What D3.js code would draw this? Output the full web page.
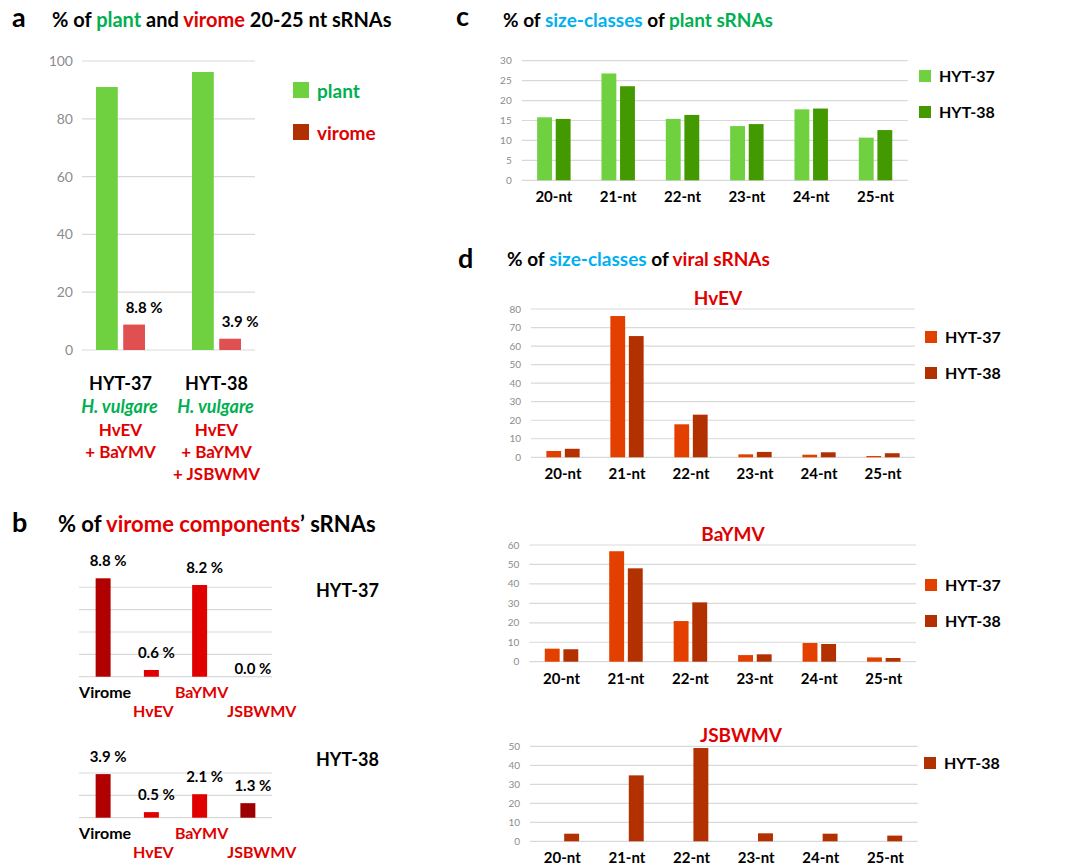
<!DOCTYPE html>
<html>
<head>
<meta charset="utf-8">
<script src="https://cdn.jsdelivr.net/npm/d3@7"></script>
<style>
  body { margin: 0; background: #fff; }
  svg text { font-family: Lato, "Open Sans", sans-serif; }
</style>
</head>
<body>
<div id="chart"></div>
<script>
// ---- data ----
var samples = ["HYT-37", "HYT-38"];
var plantPct = [91.0, 96.2];
var viromePct = [8.8, 3.9];
var hostLabel = ["H. vulgare", "H. vulgare"];
var virusLines = [["HvEV", "+ BaYMV"], ["HvEV", "+ BaYMV", "+ JSBWMV"]];

var components = ["Virome", "HvEV", "BaYMV", "JSBWMV"];
var comp37 = [8.8, 0.6, 8.2, 0.0];
var comp38 = [3.9, 0.5, 2.1, 1.3];

var sizeClasses = ["20-nt", "21-nt", "22-nt", "23-nt", "24-nt", "25-nt"];
var plant37 = [15.8, 26.8, 15.4, 13.6, 17.8, 10.7];
var plant38 = [15.4, 23.6, 16.4, 14.1, 18.0, 12.6];
var hvev37 = [3.4, 76.2, 17.8, 1.6, 1.4, 0.7];
var hvev38 = [4.6, 65.4, 23.0, 2.9, 2.7, 2.2];
var baymv37 = [6.7, 56.8, 20.9, 3.4, 9.6, 2.2];
var baymv38 = [6.4, 48.0, 30.5, 3.8, 9.1, 1.9];
var jsbwmv38 = [4.0, 34.7, 49.1, 4.2, 4.0, 3.0];

var GREEN = "#00b050", RED = "#e00000", BLUE = "#00b0f0", GRID = "#d9d9d9";

var svg = d3.select("#chart").append("svg")
    .attr("width", 1079)
    .attr("height", 867);

function title(x, y, parts, size) {
    var t = svg.append("text")
        .attr("x", x).attr("y", y)
        .attr("font-size", size)
        .attr("font-weight", "bold");
    parts.forEach(function(p) {
        t.append("tspan").attr("fill", p[1]).text(p[0]);
    });
    return t;
}

function panelLetter(x, y, s) {
    svg.append("text").attr("x", x).attr("y", y)
        .attr("font-size", 27).attr("font-weight", "bold")
        .text(s);
}

function grid(y, ticks, x0, x1) {
    svg.append("g").selectAll("line")
        .data(ticks).enter().append("line")
        .attr("x1", x0).attr("x2", x1)
        .attr("y1", function(d) { return y(d); })
        .attr("y2", function(d) { return y(d); })
        .attr("stroke", GRID).attr("stroke-width", 1.2);
}

function tickLabels(y, ticks, x, size) {
    svg.append("g").selectAll("text")
        .data(ticks).enter().append("text")
        .attr("x", x)
        .attr("y", function(d) { return y(d); })
        .attr("dy", "0.35em")
        .attr("text-anchor", "end")
        .attr("font-size", size)
        .attr("fill", "#8c8c8c")
        .text(function(d) { return d; });
}

function legendItem(x, y, color, label, textColor, size, w, h) {
    svg.append("rect").attr("x", x).attr("y", y - h)
        .attr("width", w).attr("height", h).attr("fill", color);
    svg.append("text").attr("x", x + w + 8).attr("y", y)
        .attr("font-size", size).attr("font-weight", "bold")
        .attr("fill", textColor).text(label);
}

// ================= panel a =================
panelLetter(12, 27, "a");
title(52, 27, [["% of ", "#000"], ["plant", GREEN], [" and ", "#000"], ["virome", RED], [" 20-25 nt sRNAs", "#000"]], 20);

var yA = d3.scaleLinear().domain([0, 100]).range([350, 61]);
var xA = d3.scaleBand().domain(samples).range([82, 255]).paddingInner(0.49).paddingOuter(0.146);
var xA1 = d3.scaleBand().domain(["plant", "virome"]).range([0, xA.bandwidth()]).paddingInner(0.2);
var ticksA = [0, 20, 40, 60, 80, 100];

grid(yA, ticksA, 82, 255);
tickLabels(yA, ticksA, 73, 14);

var gA = svg.append("g").selectAll("g")
    .data(samples).enter().append("g")
    .attr("transform", function(d) { return "translate(" + xA(d) + ",0)"; });

gA.append("rect")
    .attr("x", xA1("plant"))
    .attr("width", xA1.bandwidth())
    .attr("y", function(d, i) { return yA(plantPct[i]); })
    .attr("height", function(d, i) { return yA(0) - yA(plantPct[i]); })
    .attr("fill", "#6fd140");

gA.append("rect")
    .attr("x", xA1("virome"))
    .attr("width", xA1.bandwidth())
    .attr("y", function(d, i) { return yA(viromePct[i]); })
    .attr("height", function(d, i) { return yA(0) - yA(viromePct[i]); })
    .attr("fill", "#e05050");

gA.append("text")
    .attr("x", xA1("virome") + xA1.bandwidth() / 2 + 10)
    .attr("y", function(d, i) { return yA(viromePct[i]) - 12; })
    .attr("text-anchor", "middle")
    .attr("font-size", 15).attr("font-weight", "bold")
    .text(function(d, i) { return viromePct[i].toFixed(1) + " %"; });

// sample labels under panel a
gA.each(function(d, i) {
    var cx = xA.bandwidth() / 2;
    var g = d3.select(this);
    g.append("text").attr("x", cx).attr("y", 390)
        .attr("text-anchor", "middle").attr("font-size", 18).attr("font-weight", "bold")
        .text(d);
    g.append("text").attr("x", cx - 1).attr("y", 413)
        .attr("text-anchor", "middle").attr("font-size", 18).attr("font-weight", "bold")
        .attr("font-style", "italic").attr("fill", GREEN)
        .text(hostLabel[i]);
    virusLines[i].forEach(function(s, k) {
        g.append("text").attr("x", cx).attr("y", 436 + k * 22)
            .attr("text-anchor", "middle").attr("font-size", 17).attr("font-weight", "bold")
            .attr("fill", RED).text(s);
    });
});

legendItem(293, 98, "#6fd140", "plant", GREEN, 19, 16, 16);
legendItem(293, 140, "#b03000", "virome", RED, 19, 16, 16);

// ================= panel b =================
panelLetter(12, 532, "b");
title(58, 532, [["% of ", "#000"], ["virome components", RED], ["\u2019 sRNAs", "#000"]], 22);

var compColors = ["#b00000", "#e00000", "#e00000", "#9c0000"];
var labelColors = ["#000", RED, RED, RED];
var xB = d3.scaleBand().domain(components).range([79, 272]).paddingInner(0.69).paddingOuter(0.345);

function componentChart(values, base, maxTick, sample, sampleY) {
    var y = d3.scaleLinear().domain([0, 1]).range([base, base - 11.18]);
    var ticks = d3.range(0, maxTick + 1, 2);
    grid(y, ticks, 79, 272);
    var g = svg.append("g");
    g.selectAll("rect").data(components).enter().append("rect")
        .attr("x", function(d) { return xB(d); })
        .attr("width", xB.bandwidth())
        .attr("y", function(d, i) { return y(values[i]); })
        .attr("height", function(d, i) { return y(0) - y(values[i]); })
        .attr("fill", function(d, i) { return compColors[i]; });
    g.selectAll(".val").data(components).enter().append("text")
        .attr("class", "val")
        .attr("x", function(d) { return xB(d) + xB.bandwidth() / 2 + 5; })
        .attr("y", function(d, i) { return y(values[i]) - (values[i] > 0 ? 12 : 3); })
        .attr("text-anchor", "middle")
        .attr("font-size", 15).attr("font-weight", "bold")
        .text(function(d, i) { return values[i].toFixed(1) + " %"; });
    g.selectAll(".cat").data(components).enter().append("text")
        .attr("class", "cat")
        .attr("x", function(d, i) { return xB(d) + xB.bandwidth() / 2 + (i == 3 ? 14 : 2); })
        .attr("y", function(d, i) { return base + (i % 2 ? 40 : 21); })
        .attr("text-anchor", "middle")
        .attr("font-size", 16).attr("font-weight", "bold")
        .attr("fill", function(d, i) { return labelColors[i]; })
        .text(function(d) { return d; });
    svg.append("text").attr("x", 316).attr("y", sampleY)
        .attr("font-size", 18).attr("font-weight", "bold").text(sample);
}

componentChart(comp37, 676.7, 8, "HYT-37", 597);
componentChart(comp38, 817.7, 4, "HYT-38", 766);

// ================= panels c and d =================
function sizeChart(opt) {
    var x = d3.scaleBand().domain(sizeClasses).range([opt.x0, opt.x1]).paddingInner(0.48).paddingOuter(0.24);
    var xs = d3.scaleBand().domain(["HYT-37", "HYT-38"]).range([0, x.bandwidth()]).paddingInner(0.2);
    var y = d3.scaleLinear().domain([0, opt.max]).range([opt.base, opt.top]);
    var ticks = d3.range(0, opt.max + 1, opt.step);
    grid(y, ticks, opt.x0, opt.x1);
    tickLabels(y, ticks, opt.x0 - 10, 10);

    opt.series.forEach(function(s) {
        svg.append("g").selectAll("rect")
            .data(sizeClasses).enter().append("rect")
            .attr("x", function(d) { return x(d) + xs(s.name); })
            .attr("width", xs.bandwidth())
            .attr("y", function(d, i) { return y(s.values[i]); })
            .attr("height", function(d, i) { return y(0) - y(s.values[i]); })
            .attr("fill", s.color);
    });

    svg.append("g").selectAll("text")
        .data(sizeClasses).enter().append("text")
        .attr("x", function(d) { return x(d) + x.bandwidth() / 2; })
        .attr("y", opt.base + 22)
        .attr("text-anchor", "middle")
        .attr("font-size", 15).attr("font-weight", "bold")
        .text(function(d) { return d; });

    if (opt.name) {
        svg.append("text").attr("x", opt.nameX).attr("y", opt.top - 4)
            .attr("text-anchor", "middle")
            .attr("font-size", 19).attr("font-weight", "bold").attr("fill", RED)
            .text(opt.name);
    }
    opt.legendY.forEach(function(ly, k) {
        var s = opt.series[k];
        legendItem(opt.legendX, ly, s.color, s.name, "#000", 16, 12, 12);
    });
}

panelLetter(456, 26, "c");
title(503, 27, [["% of ", "#000"], ["size-classes", BLUE], [" of ", "#000"], ["plant sRNAs", GREEN]], 19);

sizeChart({
    x0: 521.7, x1: 907.7, base: 180.3, top: 60.7, max: 30, step: 5,
    series: [{name: "HYT-37", values: plant37, color: "#6fd140"},
             {name: "HYT-38", values: plant38, color: "#439a00"}],
    legendX: 919, legendY: [82, 118]
});

panelLetter(458, 268, "d");
title(507, 266, [["% of ", "#000"], ["size-classes", BLUE], [" of ", "#000"], ["viral sRNAs", RED]], 19);

var C37 = "#e34000", C38 = "#b33000";

sizeChart({
    x0: 531, x1: 915, base: 457.3, top: 309, max: 80, step: 10,
    name: "HvEV", nameX: 718,
    series: [{name: "HYT-37", values: hvev37, color: C37},
             {name: "HYT-38", values: hvev38, color: C38}],
    legendX: 925, legendY: [343, 379]
});

sizeChart({
    x0: 529.3, x1: 916, base: 661.7, top: 545, max: 60, step: 10,
    name: "BaYMV", nameX: 733,
    series: [{name: "HYT-37", values: baymv37, color: C37},
             {name: "HYT-38", values: baymv38, color: C38}],
    legendX: 925, legendY: [591, 627]
});

sizeChart({
    x0: 530, x1: 917.7, base: 841.3, top: 746.3, max: 50, step: 10,
    name: "JSBWMV", nameX: 741,
    series: [{name: "HYT-38", values: jsbwmv38, color: C38}],
    legendX: 924, legendY: [769]
});
</script>
</body>
</html>
